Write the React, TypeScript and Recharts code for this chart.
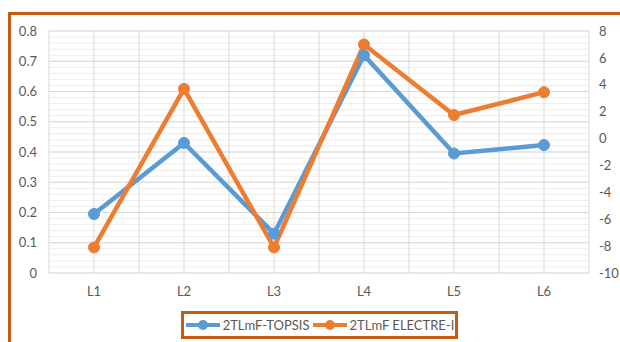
import { LineChart, Line, XAxis, YAxis, CartesianGrid, Legend } from "recharts";

const categories = ["L1", "L2", "L3", "L4", "L5", "L6"];
const topsis = [0.195, 0.43, 0.13, 0.72, 0.395, 0.423];
const electre = [-8.1, 3.7, -8.1, 7.0, 1.75, 3.45];
const leftTicks = [0, 0.1, 0.2, 0.3, 0.4, 0.5, 0.6, 0.7, 0.8];
const rightTicks = [-10, -8, -6, -4, -2, 0, 2, 4, 6, 8];

const data = categories.map((name, i) => ({
  name,
  topsis: topsis[i],
  electre: electre[i],
}));

const BLUE = "#5B9BD5";
const ORANGE = "#ED7D31";
const FRAME = "#C55A11";
const TEXT = "#595959";
const FONT = "Lato, 'Open Sans', sans-serif";

const legendItems = [
  { label: "2TLmF-TOPSIS", color: BLUE },
  { label: "2TLmF ELECTRE-I", color: ORANGE },
];

function LegendBox() {
  return (
    <div
      style={{
        marginLeft: 181,
        width: 271,
        height: 22,
        border: `3px solid ${FRAME}`,
        display: "flex",
        alignItems: "center",
        justifyContent: "center",
        gap: 2,
        fontFamily: FONT,
        fontSize: 13,
        color: TEXT,
      }}
    >
      {legendItems.map((it) => (
        <span key={it.label} style={{ display: "flex", alignItems: "center" }}>
          <svg width={36} height={12} style={{ marginRight: 2 }}>
            <line x1={1} y1={6} x2={35} y2={6} stroke={it.color} strokeWidth={4} />
            <circle cx={18} cy={6} r={5} fill={it.color} />
          </svg>
          {it.label}
        </span>
      ))}
    </div>
  );
}

export default function App() {
  return (
    <div style={{ position: "absolute", left: 0, top: 0, width: 620, height: 342, background: "#fff" }}>
      <div
        style={{
          position: "absolute",
          left: 8,
          top: 12,
          width: 700,
          height: 400,
          borderTop: `3px solid ${FRAME}`,
          borderLeft: `3px solid ${FRAME}`,
        }}
      />
      <div style={{ position: "absolute", left: 0, top: 0 }}>
        <LineChart width={620} height={342} data={data} margin={{ top: 31, right: 0, bottom: 3, left: 0 }}>
          <CartesianGrid
            stroke="#ededed"
            strokeWidth={1}
            vertical={false}
            horizontalCoordinatesGenerator={({ offset }: any) =>
              Array.from({ length: 41 }, (_, k) => offset.top + (k * offset.height) / 40)
            }
          />
          <CartesianGrid
            stroke="#d9d9d9"
            strokeWidth={1}
            horizontalCoordinatesGenerator={({ offset }: any) =>
              Array.from({ length: 9 }, (_, k) => offset.top + (k * offset.height) / 8)
            }
            verticalCoordinatesGenerator={({ offset }: any) =>
              Array.from({ length: 13 }, (_, k) => offset.left + (k * offset.width) / 12)
            }
          />
          <XAxis
            dataKey="name"
            height={38}
            padding={{ left: 45, right: 45 }}
            axisLine={false}
            tickLine={false}
            tickMargin={8}
            tick={{ fill: TEXT, fontSize: 13, fontFamily: FONT }}
          />
          <YAxis
            yAxisId="left"
            width={49}
            domain={[0, 0.8]}
            ticks={leftTicks}
            tickFormatter={(v: number) => (v === 0 ? "0" : v.toFixed(1))}
            axisLine={false}
            tickLine={false}
            tickMargin={6}
            tick={{ fill: TEXT, fontSize: 13, fontFamily: FONT }}
          />
          <YAxis
            yAxisId="right"
            orientation="right"
            width={31}
            domain={[-10, 8]}
            ticks={rightTicks}
            axisLine={false}
            tickLine={false}
            tickMargin={4}
            tick={{ fill: TEXT, fontSize: 13, fontFamily: FONT, textAnchor: "start" }}
          />
          <Legend verticalAlign="bottom" content={() => <LegendBox />} />
          <Line
            yAxisId="left"
            dataKey="topsis"
            stroke={BLUE}
            strokeWidth={4.5}
            dot={{ r: 5.5, fill: BLUE, stroke: BLUE, strokeWidth: 1 }}
            isAnimationActive={false}
          />
          <Line
            yAxisId="right"
            dataKey="electre"
            stroke={ORANGE}
            strokeWidth={4.5}
            dot={{ r: 5.5, fill: ORANGE, stroke: ORANGE, strokeWidth: 1 }}
            isAnimationActive={false}
          />
        </LineChart>
      </div>
    </div>
  );
}
